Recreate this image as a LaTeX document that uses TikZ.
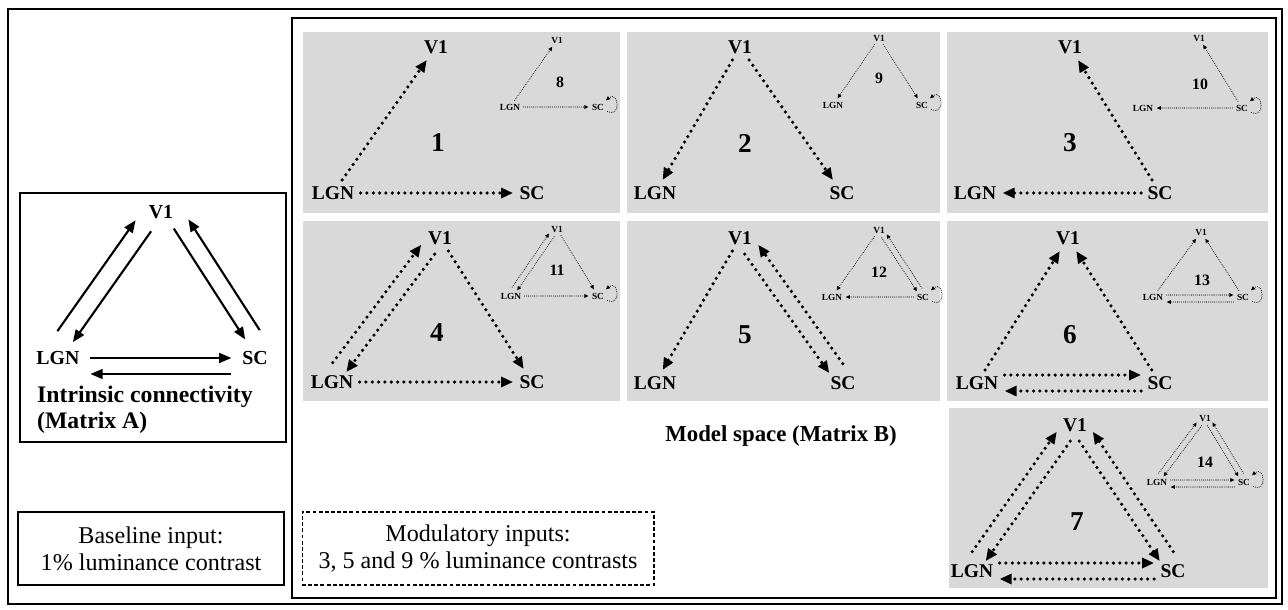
\documentclass[tikz,border=0pt]{standalone}
\usepackage{fontspec}
\setmainfont{Liberation Serif}
\usetikzlibrary{arrows.meta}
\definecolor{panelgray}{HTML}{D9D9D9}
\tikzset{
  outframe/.style={draw=black, line width=1.4pt},
  frame/.style={draw=black, line width=1.1pt},
  panel/.style={fill=panelgray},
  lbl/.style={font=\fontsize{11.1}{13}\selectfont\bfseries, inner sep=3.5pt},
  albl/.style={font=\fontsize{11.3}{13}\selectfont\bfseries, inner sep=6pt},
  mlbl/.style={font=\fontsize{5.3}{6}\selectfont\bfseries, inner sep=1.8pt},
  num/.style={font=\fontsize{15.5}{18}\selectfont\bfseries},
  mnum/.style={font=\fontsize{9}{11}\selectfont\bfseries},
  title/.style={font=\fontsize{13.5}{14.8}\selectfont\bfseries, align=left},
  box/.style={draw=black, line width=0.85pt, align=center, font=\fontsize{13.7}{15.4}\selectfont},
  dotarr/.style={line width=2pt, line cap=round, dash pattern=on 0pt off 3.6pt,
    -{Triangle[length=6.8pt,width=5.7pt]}},
  minarr/.style={line width=0.6pt, line cap=round, dash pattern=on 0pt off 1.1pt,
    -{Triangle[length=2.4pt,width=2.1pt]}},
  minloop/.style={loop, out=-25, in=40, min distance=3.2mm, shorten >=0pt, draw, minarr},
  solidarr/.style={line width=1.2pt, -{Triangle[length=7pt,width=5.6pt]}},
  % parallel offsets for two-way links
  leftout/.style={transform canvas={shift={(-9,-6.3)}}},
  leftin/.style={transform canvas={shift={(4.5,3.1)}}},
  rightout/.style={transform canvas={shift={(9,-6.3)}}},
  rightin/.style={transform canvas={shift={(-4.5,3.1)}}},
  lowtop/.style={transform canvas={shift={(0,-8)}}},
  lowbot/.style={transform canvas={shift={(0,8)}}},
  mleftout/.style={transform canvas={shift={(-3.3,-2.3)}}},
  mleftin/.style={transform canvas={shift={(1.6,1.1)}}},
  mrightout/.style={transform canvas={shift={(3.3,-2.3)}}},
  mrightin/.style={transform canvas={shift={(-1.6,1.1)}}},
  mlowtop/.style={transform canvas={shift={(0,-2)}}},
  mlowbot/.style={transform canvas={shift={(0,5)}}}
}

\begin{document}
\begin{tikzpicture}[x=0.02cm, y=-0.02cm]
  \useasboundingbox (0,0) rectangle (1288,609);

  % frames
  \draw[outframe] (8,9) rectangle (1282,604);
  \draw[frame] (292,18) rectangle (1276,598);
  \draw[frame] (20,193) rectangle (286,442);

  % grey panels
  \fill[panel] (303,32) rectangle (620,213);
  \fill[panel] (627,32) rectangle (940,213);
  \fill[panel] (947,32) rectangle (1268,213);
  \fill[panel] (303,221) rectangle (620,401);
  \fill[panel] (627,221) rectangle (940,401);
  \fill[panel] (947,221) rectangle (1268,401);
  \fill[panel] (949,408) rectangle (1268,588);

  % Matrix A
  \node[albl] (v1A) at (161,212) {V1};
  \node[albl] (lgnA) at (58,358) {LGN};
  \node[albl] (scA) at (255,358) {SC};
  \draw[solidarr, transform canvas={shift={(-13,-9.3)}}] (lgnA) -- (v1A);
  \draw[solidarr, transform canvas={shift={(2.5,1.7)}}] (v1A) -- (lgnA);
  \draw[solidarr, transform canvas={shift={(1.5,-1)}}] (v1A) -- (scA);
  \draw[solidarr, transform canvas={shift={(16,-10.3)}}] (scA) -- (v1A);
  \draw[solidarr] (lgnA) -- (scA);
  \draw[solidarr, transform canvas={shift={(0,16)}}] (scA) -- (lgnA);
  \node[title, anchor=west] (titleA) at (31,410) {Intrinsic connectivity\\(Matrix A)};

  % input boxes
  \node[box, minimum width=5.32cm, minimum height=1.46cm] (base) at (151,548.5)
    {Baseline input:\\1\% luminance contrast};
  \node[box, line width=0.6pt, dash pattern=on 2.2pt off 1.3pt,
    minimum width=7.04cm, minimum height=1.46cm] (modu) at (478,548.5)
    {Modulatory inputs:\\3, 5 and 9 \% luminance contrasts};
  \node[title, anchor=base east, font=\fontsize{13}{14}\selectfont\bfseries] (titleB)
    at (903,441) {Model space (Matrix B)};

  % panel 1
  \node[lbl] (p1v) at (436,47) {V1};
  \node[lbl] (p1l) at (333,193) {LGN};
  \node[lbl] (p1s) at (532,193) {SC};
  \node[num] (n1) at (438,143) {1};
  \draw[dotarr] (p1l) -- (p1v);
  \draw[dotarr] (p1l) -- (p1s);
  \node[mlbl] (m8v) at (557,40) {V1};
  \node[mlbl] (m8l) at (510,107) {LGN};
  \node[mlbl] (m8s) at (598,107) {SC};
  \node[mnum] (n8) at (560,82) {8};
  \draw[minarr] (m8l) -- (m8v);
  \draw[minarr] (m8l) -- (m8s);
  \path (m8s) edge[minloop] (m8s);

  % panel 2
  \node[lbl] (p2v) at (740,47) {V1};
  \node[lbl] (p2l) at (655,193) {LGN};
  \node[lbl] (p2s) at (842,193) {SC};
  \node[num] (n2) at (745,143) {2};
  \draw[dotarr] (p2v) -- (p2l);
  \draw[dotarr] (p2v) -- (p2s);
  \node[mlbl] (m9v) at (879,38) {V1};
  \node[mlbl] (m9l) at (833,105) {LGN};
  \node[mlbl] (m9s) at (922,105) {SC};
  \node[mnum] (n9) at (879,78) {9};
  \draw[minarr] (m9v) -- (m9l);
  \draw[minarr] (m9v) -- (m9s);
  \path (m9s) edge[minloop] (m9s);

  % panel 3
  \node[lbl] (p3v) at (1070,47) {V1};
  \node[lbl] (p3l) at (975,193) {LGN};
  \node[lbl] (p3s) at (1160,193) {SC};
  \node[num] (n3) at (1070,143) {3};
  \draw[dotarr] (p3s) -- (p3v);
  \draw[dotarr] (p3s) -- (p3l);
  \node[mlbl] (m10v) at (1199,38) {V1};
  \node[mlbl] (m10l) at (1143,108) {LGN};
  \node[mlbl] (m10s) at (1242,108) {SC};
  \node[mnum] (n10) at (1200,84) {10};
  \draw[minarr] (m10s) -- (m10v);
  \draw[minarr] (m10s) -- (m10l);
  \path (m10s) edge[minloop] (m10s);

  % panel 4
  \node[lbl] (p4v) at (440,238) {V1};
  \node[lbl] (p4l) at (332,382) {LGN};
  \node[lbl] (p4s) at (532,382) {SC};
  \node[num] (n4) at (437,333) {4};
  \draw[dotarr, leftout] (p4l) -- (p4v);
  \draw[dotarr, leftin] (p4v) -- (p4l);
  \draw[dotarr] (p4v) -- (p4s);
  \draw[dotarr] (p4l) -- (p4s);
  \node[mlbl] (m11v) at (557,229) {V1};
  \node[mlbl] (m11l) at (511,296) {LGN};
  \node[mlbl] (m11s) at (598,296) {SC};
  \node[mnum] (n11) at (557,270) {11};
  \draw[minarr, mleftout] (m11l) -- (m11v);
  \draw[minarr, mleftin] (m11v) -- (m11l);
  \draw[minarr] (m11v) -- (m11s);
  \draw[minarr] (m11l) -- (m11s);
  \path (m11s) edge[minloop] (m11s);

  % panel 5
  \node[lbl] (p5v) at (740,238) {V1};
  \node[lbl] (p5l) at (655,383) {LGN};
  \node[lbl] (p5s) at (843,383) {SC};
  \node[num] (n5) at (745,335) {5};
  \draw[dotarr] (p5v) -- (p5l);
  \draw[dotarr, rightin] (p5v) -- (p5s);
  \draw[dotarr, rightout] (p5s) -- (p5v);
  \node[mlbl] (m12v) at (879,230) {V1};
  \node[mlbl] (m12l) at (832,297) {LGN};
  \node[mlbl] (m12s) at (923,297) {SC};
  \node[mnum] (n12) at (879,272) {12};
  \draw[minarr] (m12v) -- (m12l);
  \draw[minarr, mrightin] (m12v) -- (m12s);
  \draw[minarr, mrightout] (m12s) -- (m12v);
  \draw[minarr] (m12s) -- (m12l);
  \path (m12s) edge[minloop] (m12s);

  % panel 6
  \node[lbl] (p6v) at (1068,238) {V1};
  \node[lbl] (p6l) at (977,383) {LGN};
  \node[lbl] (p6s) at (1160,383) {SC};
  \node[num] (n6) at (1070,335) {6};
  \draw[dotarr] (p6l) -- (p6v);
  \draw[dotarr] (p6s) -- (p6v);
  \draw[dotarr, lowtop] (p6l) -- (p6s);
  \draw[dotarr, lowbot] (p6s) -- (p6l);
  \node[mlbl] (m13v) at (1201,232) {V1};
  \node[mlbl] (m13l) at (1153,297) {LGN};
  \node[mlbl] (m13s) at (1243,297) {SC};
  \node[mnum] (n13) at (1202,280) {13};
  \draw[minarr] (m13l) -- (m13v);
  \draw[minarr] (m13s) -- (m13v);
  \draw[minarr, mlowtop] (m13l) -- (m13s);
  \draw[minarr, mlowbot] (m13s) -- (m13l);
  \path (m13s) edge[minloop] (m13s);

  % panel 7
  \node[lbl] (p7v) at (1075,425) {V1};
  \node[lbl] (p7l) at (972,571) {LGN};
  \node[lbl] (p7s) at (1173,571) {SC};
  \node[num] (n7) at (1077,522) {7};
  \draw[dotarr, leftout] (p7l) -- (p7v);
  \draw[dotarr, leftin] (p7v) -- (p7l);
  \draw[dotarr, rightin] (p7v) -- (p7s);
  \draw[dotarr, rightout] (p7s) -- (p7v);
  \draw[dotarr, lowtop] (p7l) -- (p7s);
  \draw[dotarr, lowbot] (p7s) -- (p7l);
  \node[mlbl] (m14v) at (1205,418) {V1};
  \node[mlbl] (m14l) at (1157,482) {LGN};
  \node[mlbl] (m14s) at (1244,482) {SC};
  \node[mnum] (n14) at (1205,462) {14};
  \draw[minarr, mleftout] (m14l) -- (m14v);
  \draw[minarr, mleftin] (m14v) -- (m14l);
  \draw[minarr, mrightin] (m14v) -- (m14s);
  \draw[minarr, mrightout] (m14s) -- (m14v);
  \draw[minarr, mlowtop] (m14l) -- (m14s);
  \draw[minarr, mlowbot] (m14s) -- (m14l);
  \path (m14s) edge[minloop] (m14s);
\end{tikzpicture}
\end{document}
